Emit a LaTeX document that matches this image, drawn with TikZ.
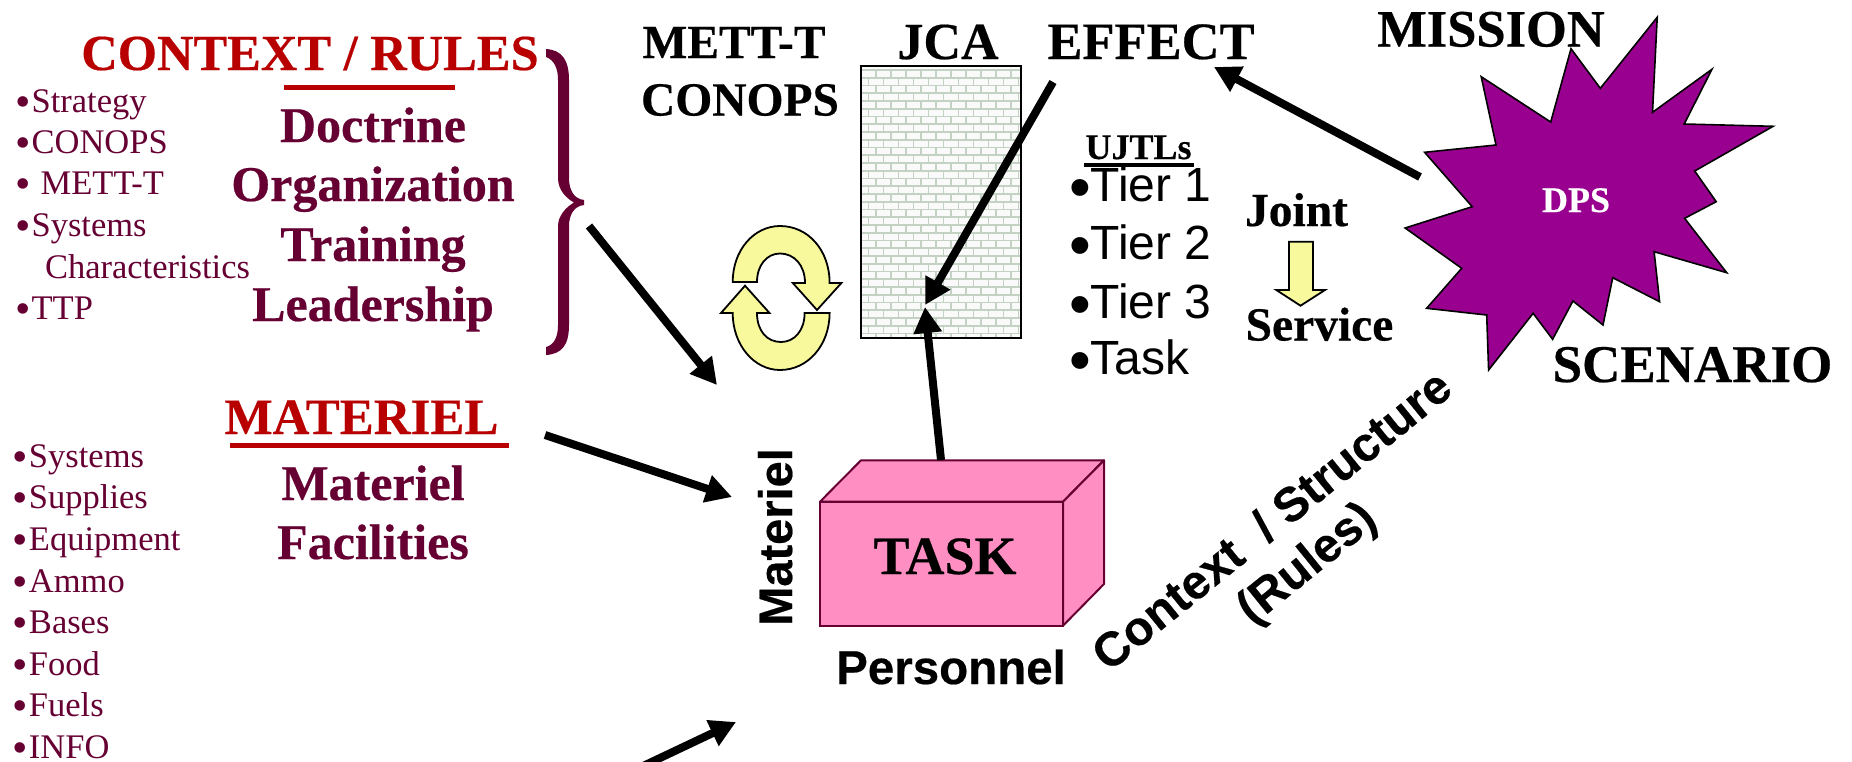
\documentclass[tikz,border=0pt]{standalone}
\usepackage{fontspec}
\setmainfont[BoldFeatures={FakeBold=0.4}]{Liberation Serif}
\setsansfont[BoldFeatures={FakeBold=0.4}]{Liberation Sans}
\usetikzlibrary{arrows.meta}
\definecolor{plum}{HTML}{660033}
\definecolor{headred}{HTML}{B80000}
\definecolor{paley}{HTML}{F8F89C}
\definecolor{pinkb}{HTML}{FF8FC2}
\definecolor{purp}{HTML}{990090}
\definecolor{brick}{HTML}{C4D2C4}
\newcommand{\itb}[1]{\makebox[#1][l]{\raisebox{-4.5pt}{\fontsize{44}{44}\selectfont •}}}
\newcommand{\tierb}{\makebox[21.5pt][l]{\raisebox{-7pt}{\fontsize{62}{62}\selectfont •}}}
\tikzset{
  txt/.style={inner sep=0pt,outer sep=0pt,anchor=base,font=\fontsize{#1}{#1}\selectfont\bfseries},
  headtxt/.style={txt=#1,text=headred},
  dom/.style={txt=50,text=plum},
  blk/.style={txt=#1,text=black},
  item/.style={inner sep=0pt,outer sep=0pt,anchor=base west,text=plum,font=\fontsize{34.5}{34.5}\selectfont},
  tier/.style={inner sep=0pt,outer sep=0pt,anchor=base west,font=\fontsize{48}{48}\selectfont\sffamily},
  sans/.style={inner sep=0pt,outer sep=0pt,font=\fontsize{#1}{#1}\selectfont\sffamily\bfseries},
  big/.style={-{Triangle[length=26pt,width=27pt]},line width=8pt,black},
  rule/.style={line width=#1},
  yel/.style={fill=paley,draw=black,line width=1.8pt,line join=miter},
}
\begin{document}
\begin{tikzpicture}[x=1pt,y=-1pt]
\useasboundingbox (0,0) rectangle (1852,761);
% wall
\coordinate (wallA) at (861,66);
\coordinate (wallB) at (1021,338);
\begin{scope}
\clip (wallA) rectangle (wallB);
\fill[white!60!brick!25!white] (wallA) rectangle (wallB);
\foreach \r in {0,...,35}{
  \pgfmathsetmacro{\yy}{70+\r*7.75}
  \draw[brick,line width=1.8pt] (861,\yy) -- (1021,\yy);
  \pgfmathsetmacro{\off}{mod(\r,2)*7.5}
  \foreach \c in {0,...,11}{
    \pgfmathsetmacro{\xx}{861+\off+\c*15}
    \draw[brick,line width=1.8pt] (\xx,\yy) -- (\xx,\yy+7.75);
  }
}
\end{scope}
\draw[black,line width=2pt] (wallA) rectangle (wallB);
% headings
\node[headtxt=50.5] (ctx) at (310,70) {CONTEXT / RULES};
\coordinate (ctxL) at (284,87.5); \coordinate (ctxR) at (455,87.5);
\draw[draw=headred,rule=5pt] (ctxL) -- (ctxR);
\node[dom] (doc) at (373,142) {Doctrine};
\node[dom] (org) at (373,201) {Organization};
\node[dom] (trn) at (373,261) {Training};
\node[dom] (ldr) at (373,321) {Leadership};
\node[item] (i1) at (15,112) {\itb{16.6pt}Strategy};
\node[item] (i2) at (15,153) {\itb{16.6pt}CONOPS};
\node[item] (i3) at (15,194) {\itb{25.7pt}METT-T};
\node[item] (i4) at (15,236) {\itb{16.6pt}Systems};
\node[item] (i5) at (45,278) {Characteristics};
\node[item] (i6) at (15,319) {\itb{16.6pt}TTP};
% brace
\fill[plum] (546,49) .. controls (562,50) and (569,60) .. (569,80) -- (569,178) .. controls (569,190) and (574,199) .. (584,200) -- (584,205) .. controls (574,206) and (569,215) .. (569,226) -- (569,325) .. controls (569,345) and (562,354) .. (546,355) -- (546,347) .. controls (554,345) and (558,337) .. (558,325) -- (558,226) .. controls (558,216) and (566,207) .. (574,202.5) .. controls (566,198) and (558,190) .. (558,178) -- (558,80) .. controls (558,68) and (554,60) .. (546,57) -- cycle;
% materiel
\node[headtxt=51] (mat) at (361.5,434) {MATERIEL};
\coordinate (matL) at (230,445); \coordinate (matR) at (509,445);
\draw[draw=headred,rule=5pt] (matL) -- (matR);
\node[dom] (mt2) at (373,500) {Materiel};
\node[dom] (fac) at (373,559) {Facilities};
\node[item] (m1) at (12.5,467) {\itb{16.5pt}Systems};
\node[item] (m2) at (12.5,508) {\itb{16.5pt}Supplies};
\node[item] (m3) at (12.5,550) {\itb{16.5pt}Equipment};
\node[item] (m4) at (12.5,592) {\itb{16.5pt}Ammo};
\node[item] (m5) at (12.5,633) {\itb{16.5pt}Bases};
\node[item] (m6) at (12.5,675) {\itb{16.5pt}Food};
\node[item] (m7) at (12.5,716) {\itb{16.5pt}Fuels};
\node[item] (m8) at (12.5,758) {\itb{16.5pt}INFO};
% top labels
\node[blk=47.5] (mett) at (734,58) {METT-T};
\node[blk=47.5] (conops) at (740,115.5) {CONOPS};
\node[blk=52] (jca) at (948,59) {JCA};
\node[blk=52.5] (eff) at (1151,59) {EFFECT};
\node[blk=36] (ujtl) at (1138.5,159) {UJTLs};
\coordinate (uL) at (1083.5,165); \coordinate (uR) at (1194,165);
\draw[black,rule=3.5pt] (uL) -- (uR);
\node[tier] (t1) at (1069,201) {\tierb Tier 1};
\node[tier] (t2) at (1069,259) {\tierb Tier 2};
\node[tier] (t3) at (1069,318) {\tierb Tier 3};
\node[tier] (t4) at (1069,374) {\tierb Task};
\node[blk=47.5] (jnt) at (1296.5,226) {Joint};
\node[blk=47.5] (srv) at (1319.5,340.5) {Service};
\node[blk=52.5] (msn) at (1491,46.5) {MISSION};
\node[blk=53] (scn) at (1692.5,382) {SCENARIO};
% down arrow
\draw[yel] (1289,241.7) -- (1313,241.7) -- (1313,290) -- (1325,290) -- (1300.5,305.7) -- (1276.3,290) -- (1289,290) -- cycle;
% cycle arrows
\draw[yel] (732.7,282) .. controls (732.7,250) and (754,226) .. (780,226) .. controls (808,226) and (829.6,250) .. (829.6,283) -- (841.4,283) -- (817,310) -- (792.8,283) -- (805,283) .. controls (805,265) and (794,253.5) .. (780,253.5) .. controls (767,253.5) and (757,265) .. (757,282) -- cycle;
\draw[yel] (804.6,313) .. controls (804.6,331) and (794,342) .. (781,342) .. controls (767,342) and (757,331) .. (757,313) -- (769.5,313) -- (745,285.7) -- (721,313) -- (732.7,313) .. controls (732.7,345) and (754,370) .. (780,370) .. controls (808,370) and (829.6,345) .. (829.6,313) -- cycle;
% star
\draw[fill=purp,draw=black,line width=1.6pt,line join=miter]
 (1657.2,17.3)--(1652.5,112.3)--(1711.9,69.3)--(1684.2,124)--(1773.1,126.3)--(1694.7,171)--(1716.2,201.7)--(1684.6,218.3)--(1726.7,272.7)--(1654.1,251.7)--(1659.6,301.7)--(1612.7,277.7)--(1603,325)--(1572.9,301)--(1552.6,339.3)--(1533.1,313.3)--(1488.6,370)--(1486.7,315)--(1426.6,308.3)--(1461.7,268.3)--(1405.1,228)--(1472.2,206.7)--(1424.6,152.3)--(1496,145)--(1481.2,76.7)--(1550.7,122)--(1571,48.7)--(1600.3,88.3)--cycle;
\node[blk=36,text=white] (dps) at (1576,212) {DPS};
% task box
\draw[fill=pinkb,draw=plum,line width=2pt,line join=round] (820,501.7) -- (861,460.3) -- (1104,460.3) -- (1063,501.7) -- cycle;
\draw[fill=pinkb,draw=plum,line width=2pt,line join=round] (1063,501.7) -- (1104,460.3) -- (1104,584) -- (1063,625.7) -- cycle;
\node[draw=plum,fill=pinkb,line width=2pt,minimum width=243pt,minimum height=124pt,inner sep=0pt,outer sep=0pt,anchor=north west] (task) at (820,501.7) {};
\node[blk=54] (tasklab) at (945,574) {TASK};
\node[sans=47,rotate=90,anchor=base] (matv) at (792,537) {Materiel};
\node[sans=47.5,anchor=base] (pers) at (951,684) {Personnel};
\node[sans=48,rotate=39,align=center] (cs) at (1291,544) {Context \ / Structure\\[6pt](Rules)};
% arrows
\coordinate (a1s) at (589,226); \coordinate (a1e) at (717,385);
\coordinate (a2s) at (545,435); \coordinate (a2e) at (732,497);
\coordinate (a3s) at (622,776); \coordinate (a3e) at (736,722);
\coordinate (a4s) at (1053,82); \coordinate (a4e) at (925,305);
\coordinate (a5s) at (941,460); \coordinate (a5e) at (925,307);
\coordinate (a6s) at (1420,177); \coordinate (a6e) at (1214,67);
\begin{scope}
\clip (0,0) rectangle (1852,761);
\draw[big] (a1s) -- (a1e);
\draw[big] (a2s) -- (a2e);
\draw[big] (a3s) -- (a3e);
\draw[big] (a4s) -- (a4e);
\draw[big] (a5s) -- (a5e);
\draw[big] (a6s) -- (a6e);
\end{scope}
\end{tikzpicture}
\end{document}
